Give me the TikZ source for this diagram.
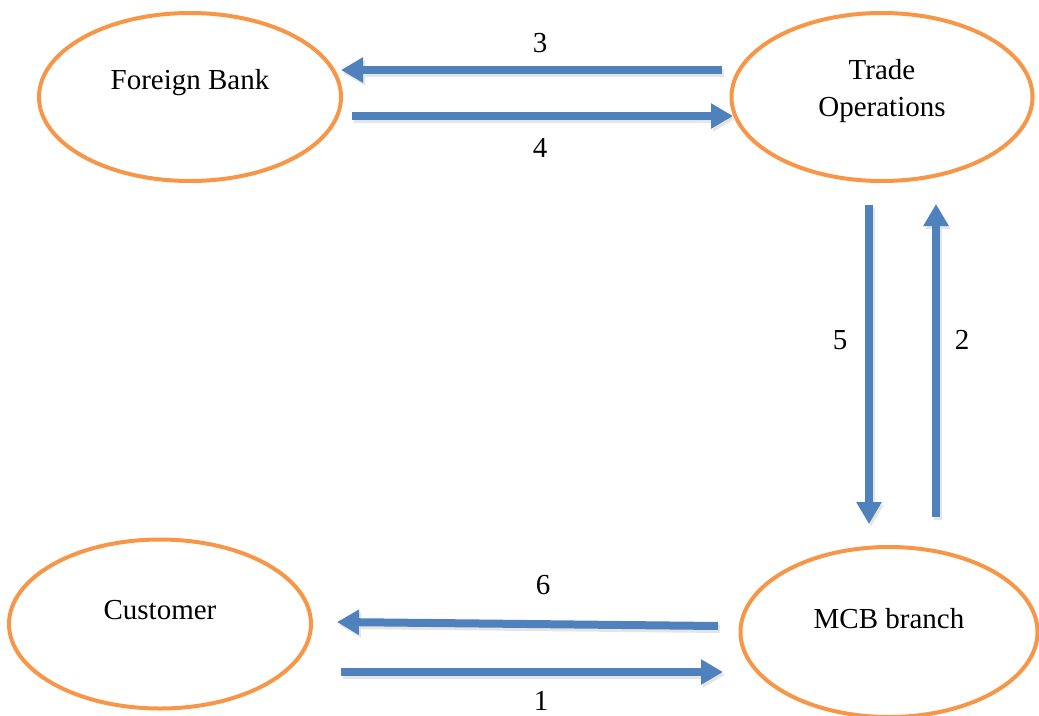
\documentclass[tikz,border=0pt]{standalone}
\usepackage{fontspec}
\setmainfont{Liberation Serif}
\usetikzlibrary{shapes.geometric,arrows.meta}
\definecolor{ellorange}{HTML}{F79646}
\definecolor{arrblue}{HTML}{4F81BD}
\tikzset{
  ell/.style={ellipse, draw=ellorange, line width=4pt, inner sep=0pt},
  txt/.style={font=\fontsize{29}{37}\selectfont, inner sep=0pt, align=center},
  flow/.style={draw=arrblue, line width=8pt, -{Triangle[length=22pt,width=24pt]}},
  flowshadow/.style={draw=black!10, line width=8pt, -{Triangle[length=22pt,width=24pt]}, transform canvas={shift={(2pt,-3pt)}}}
}
\begin{document}
\begin{tikzpicture}[x=1pt,y=-1pt]
\useasboundingbox (0,0) rectangle (1039,715);
% ellipses
\node[ell, minimum width=302pt, minimum height=168pt] (fb) at (190,97) {};
\node[ell, minimum width=301pt, minimum height=168pt] (tr) at (882,97) {};
\node[ell, minimum width=302pt, minimum height=169pt] (cu) at (160,624) {};
\node[ell, minimum width=297pt, minimum height=170pt] (mcb) at (889,632) {};
% texts
\node[txt] (fbt) at (190,83) {Foreign Bank};
\node[txt] (trt) at (882,91) {Trade\\Operations};
\node[txt] (cut) at (160,610) {Customer};
\node[txt] (mcbt) at (889,619) {MCB branch};
% connector end points
\coordinate (a3s) at (722,70);  \coordinate (a3e) at (341,70);
\coordinate (a4s) at (352,116); \coordinate (a4e) at (733,116);
\coordinate (a5s) at (869,205); \coordinate (a5e) at (869,524);
\coordinate (a2s) at (936,517); \coordinate (a2e) at (936,204);
\coordinate (a6s) at (718,626); \coordinate (a6e) at (337,622);
\coordinate (a1s) at (341,672); \coordinate (a1e) at (723,672);
% shadows
\foreach \s/\e in {a3s/a3e,a4s/a4e,a5s/a5e,a2s/a2e,a6s/a6e,a1s/a1e}
  \draw[flowshadow] (\s) -- (\e);
% arrows
\draw[flow] (a3s) -- (a3e);
\draw[flow] (a4s) -- (a4e);
\draw[flow] (a5s) -- (a5e);
\draw[flow] (a2s) -- (a2e);
\draw[flow] (a6s) -- (a6e);
\draw[flow] (a1s) -- (a1e);
% labels
\node[txt] (l3) at (540,43) {3};
\node[txt] (l4) at (540,148) {4};
\node[txt] (l5) at (840,340) {5};
\node[txt] (l2) at (962,340) {2};
\node[txt] (l6) at (543,585) {6};
\node[txt] (l1) at (541,701) {1};
\end{tikzpicture}
\end{document}
